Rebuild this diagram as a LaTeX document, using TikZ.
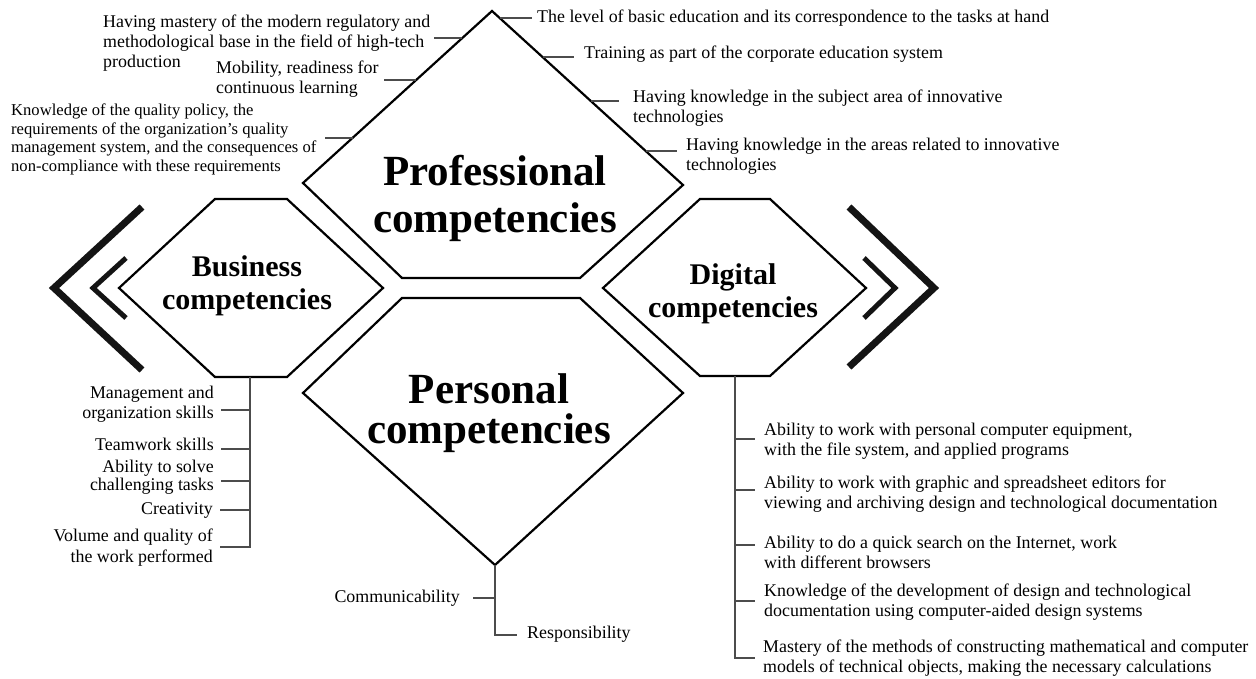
\documentclass[tikz,border=0pt]{standalone}
\usepackage{fontspec}
\setmainfont{Liberation Serif}
\usetikzlibrary{calc}
\begin{document}
\begin{tikzpicture}[x=1pt,y=-1pt,
  outline/.style={draw=black, line width=2.2pt, line join=miter},
  conn/.style={draw=black!70, line width=1.8pt},
  chevbig/.style={draw=black!92, line width=7pt, line join=miter},
  chevsmall/.style={draw=black!92, line width=5pt, line join=miter},
  txt/.style={font=\fontsize{17.9}{20}\selectfont, inner sep=0pt},
  ltxt/.style={txt, align=left, anchor=west},
  rtxt/.style={txt, align=right, anchor=east},
  bigtitle/.style={font=\bfseries\fontsize{43}{47}\selectfont, align=center, inner sep=0pt},
  midtitle/.style={font=\bfseries\fontsize{30}{33}\selectfont, align=center, inner sep=0pt}]
\useasboundingbox[fill=white] (0,0) rectangle (1256,679);

% ---------- shape vertices ----------
\coordinate (PT) at (492,11);
\coordinate (PR) at (683,185);
\coordinate (PBR) at (580,278);
\coordinate (PBL) at (402,278);
\coordinate (PL) at (303,183);

\coordinate (QTL) at (402,298);
\coordinate (QTR) at (580,298);
\coordinate (QR) at (683,393);
\coordinate (QB) at (495,565);
\coordinate (QL) at (303,393);

\coordinate (BTL) at (215,199);
\coordinate (BTR) at (287,199);
\coordinate (BR) at (383,288);
\coordinate (BBR) at (287,377);
\coordinate (BBL) at (215,377);
\coordinate (BL) at (119,288);

\coordinate (DTL) at (700,199);
\coordinate (DTR) at (770,199);
\coordinate (DR) at (866,288);
\coordinate (DBR) at (770,376);
\coordinate (DBL) at (700,376);
\coordinate (DL) at (603,288);

% ---------- shapes ----------
\draw[outline] (PT) -- (PR) -- (PBR) -- (PBL) -- (PL) -- cycle;
\draw[outline] (QTL) -- (QTR) -- (QR) -- (QB) -- (QL) -- cycle;
\draw[outline] (BTL) -- (BTR) -- (BR) -- (BBR) -- (BBL) -- (BL) -- cycle;
\draw[outline] (DTL) -- (DTR) -- (DR) -- (DBR) -- (DBL) -- (DL) -- cycle;

% ---------- chevrons ----------
\draw[chevbig] (142,207) -- (54,288) -- (142,370);
\draw[chevsmall] (126,258) -- (93,288) -- (126,318);
\draw[chevbig] (849,207) -- (934,288) -- (849,367);
\draw[chevsmall] (864,258) -- (895,288) -- (864,318);

% ---------- titles ----------
\node[bigtitle] (prof) at (495,198.5) {Professional\\competencies};
\node[bigtitle, font=\bfseries\fontsize{43}{40}\selectfont] (pers) at (489,413) {Personal\\competencies};
\node[midtitle] (bus) at (247,286) {Business\\competencies};
\node[midtitle] (dig) at (733,294) {Digital\\competencies};

% ---------- professional: right items ----------
\node[ltxt] (r1) at (537,18) {The level of basic education and its correspondence to the tasks at hand};
\node[ltxt] (r2) at (584,54) {Training as part of the corporate education system};
\node[ltxt] (r3) at (633,108) {Having knowledge in the subject area of innovative\\technologies};
\node[ltxt] (r4) at (686,156) {Having knowledge in the areas related to innovative\\technologies};

\coordinate (er1) at (499.7,18);
\coordinate (er2) at (542.5,57);
\coordinate (er3) at (590.8,101);
\coordinate (er4) at (645.7,151);
\draw[conn, shorten >=5pt] (er1) -- (er1 -| r1.west);
\draw[conn, shorten >=10pt] (er2) -- (er2 -| r2.west);
\draw[conn, shorten >=14pt] (er3) -- (er3 -| r3.west);
\draw[conn, shorten >=9pt] (er4) -- (er4 -| r4.west);

% ---------- professional: left items ----------
\node[ltxt] (l1) at (103,43) {Having mastery of the modern regulatory and\\methodological base in the field of high-tech\\production};
\node[ltxt] (l2) at (216,79) {Mobility, readiness for\\continuous learning};
\node[ltxt, font=\fontsize{16.6}{18.4}\selectfont] (l3) at (11,139.5) {Knowledge of the quality policy, the\\requirements of the organization’s quality\\management system, and the consequences of\\non-compliance with these requirements};

\coordinate (el1) at (462.3,38);
\coordinate (el2) at (416.2,80);
\coordinate (el3) at (352.5,138);
\draw[conn, shorten >=4pt] (el1) -- (el1 -| l1.east);
\draw[conn, shorten >=5pt] (el2) -- (el2 -| l2.east);
\draw[conn, shorten >=8pt] (el3) -- (el3 -| l3.east);

% ---------- business items ----------
\node[rtxt] (b1) at (214,404.5) {Management and\\organization skills};
\node[rtxt] (b2) at (214,444) {Teamwork skills};
\node[rtxt, font=\fontsize{17.9}{18}\selectfont] (b3) at (214,477) {Ability to solve\\challenging tasks};
\node[rtxt] (b4) at (213,511) {Creativity};
\node[rtxt, font=\fontsize{17.9}{21}\selectfont] (b5) at (213,547.5) {Volume and quality of\\the work performed};

\coordinate (bv0) at (250,377);
\coordinate (bv1) at (250,410);
\coordinate (bv2) at (250,449);
\coordinate (bv3) at (250,481);
\coordinate (bv4) at (250,510);
\coordinate (bv5) at (250,547);
\draw[conn, shorten >=7pt] (bv0) -- (bv5) -- (bv5 -| b5.east);
\draw[conn, shorten >=7pt] (bv1) -- (bv1 -| b1.east);
\draw[conn, shorten >=7pt] (bv2) -- (bv2 -| b2.east);
\draw[conn, shorten >=7pt] (bv3) -- (bv3 -| b3.east);
\draw[conn, shorten >=7pt] (bv4) -- (bv4 -| b4.east);

% ---------- personal items ----------
\node[rtxt] (comm) at (460,598) {Communicability};
\node[ltxt] (resp) at (527,634) {Responsibility};
\coordinate (pv1) at (495,598);
\coordinate (pv2) at (495,635);
\draw[conn, shorten >=10pt] (QB) -- (pv2) -- (pv2 -| resp.west);
\draw[conn, shorten >=13pt] (pv1) -- (pv1 -| comm.east);

% ---------- digital items ----------
\node[ltxt] (d1) at (764,441) {Ability to work with personal computer equipment,\\with the file system, and applied programs};
\node[ltxt] (d2) at (764,494) {Ability to work with graphic and spreadsheet editors for\\viewing and archiving design and technological documentation};
\node[ltxt] (d3) at (764,552) {Ability to do a quick search on the Internet, work\\with different browsers};
\node[ltxt] (d4) at (764,602) {Knowledge of the development of design and technological\\documentation using computer-aided design systems};
\node[ltxt] (d5) at (763,658.5) {Mastery of the methods of constructing mathematical and computer\\models of technical objects, making the necessary calculations};

\coordinate (dv0) at (735,376);
\coordinate (dv1) at (735,439);
\coordinate (dv2) at (735,490);
\coordinate (dv3) at (735,545);
\coordinate (dv4) at (735,601);
\coordinate (dv5) at (735,658);
\draw[conn, shorten >=8pt] (dv0) -- (dv5) -- (dv5 -| d5.west);
\draw[conn, shorten >=9pt] (dv1) -- (dv1 -| d1.west);
\draw[conn, shorten >=9pt] (dv2) -- (dv2 -| d2.west);
\draw[conn, shorten >=9pt] (dv3) -- (dv3 -| d3.west);
\draw[conn, shorten >=9pt] (dv4) -- (dv4 -| d4.west);
\end{tikzpicture}
\end{document}
